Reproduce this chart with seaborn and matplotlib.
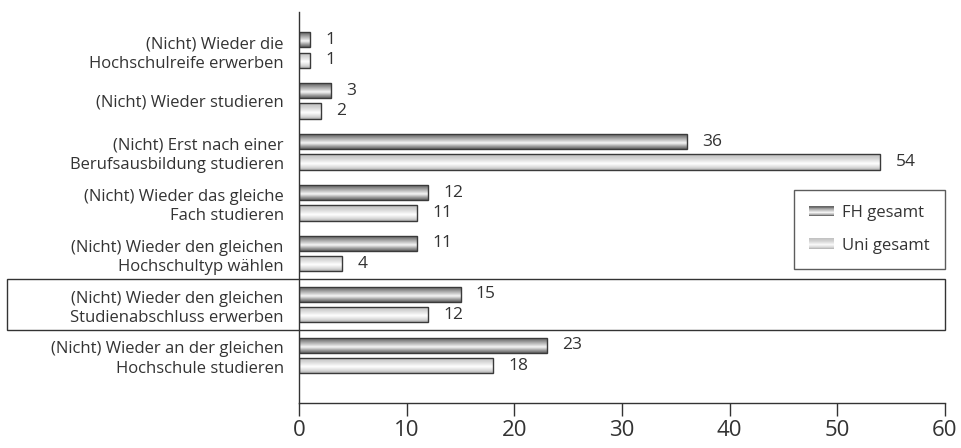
import numpy as np
import pandas as pd
import matplotlib
matplotlib.use("Agg")
import matplotlib.pyplot as plt
import seaborn as sns
from matplotlib.colors import LinearSegmentedColormap
from matplotlib.patches import Rectangle
from matplotlib.legend_handler import HandlerBase
from matplotlib.transforms import blended_transform_factory

categories = [
    "(Nicht) Wieder die\nHochschulreife erwerben",
    "(Nicht) Wieder studieren",
    "(Nicht) Erst nach einer\nBerufsausbildung studieren",
    "(Nicht) Wieder das gleiche\nFach studieren",
    "(Nicht) Wieder den gleichen\nHochschultyp wählen",
    "(Nicht) Wieder den gleichen\nStudienabschluss erwerben",
    "(Nicht) Wieder an der gleichen\nHochschule studieren",
]
series_names = ["FH gesamt", "Uni gesamt"]
fh_values = [1, 3, 36, 12, 11, 15, 23]
uni_values = [1, 2, 54, 11, 4, 12, 18]
x_ticks = [0, 10, 20, 30, 40, 50, 60]
highlight_index = 5

sns.set_theme(style="white")
plt.rcParams["font.family"] = ["Open Sans", "DejaVu Sans"]
TXT = "#333333"

df = pd.DataFrame({
    "cat": categories * 2,
    "val": fh_values + uni_values,
    "series": [series_names[0]] * len(categories) + [series_names[1]] * len(categories),
})

fig = plt.figure(figsize=(9.61, 4.48), dpi=100)
ax = fig.add_axes([299 / 961, 1 - 403 / 448, 646 / 961, 391 / 448])

sns.barplot(data=df, y="cat", x="val", hue="series", order=categories,
            hue_order=series_names, orient="h", width=0.8, gap=0.25,
            palette=["#888888", "#dddddd"], edgecolor="#3a3a3a", linewidth=1.0,
            ax=ax, legend=False)

cmaps = [
    LinearSegmentedColormap.from_list("fh", [(0, "#606060"), (0.2, "#828282"), (0.62, "#f6f6f6"), (0.85, "#989898"), (1, "#606060")]),
    LinearSegmentedColormap.from_list("uni", [(0, "#c0c0c0"), (0.25, "#d2d2d2"), (0.6, "#ffffff"), (0.85, "#d8d8d8"), (1, "#b0b0b0")]),
]
grad = np.linspace(0, 1, 64).reshape(-1, 1)
for ci, cont in enumerate(ax.containers):
    for p in cont.patches:
        x, y, w, h = p.get_x(), p.get_y(), p.get_width(), p.get_height()
        im = ax.imshow(grad, cmap=cmaps[ci], extent=(x, x + w, y + h, y), origin="upper",
                       aspect="auto", interpolation="bilinear", zorder=p.get_zorder() - 0.1)
        im.set_clip_path(p)
        p.set_facecolor("none")
    ax.bar_label(cont, padding=11, fontsize=12.5, color=TXT)

ax.set_xlim(0, 60)
ax.set_ylim(6.935, -0.747)
ax.set_xticks(x_ticks)
ax.set_xticklabels([str(t) for t in x_ticks], fontsize=16, color=TXT)
ax.tick_params(axis="x", direction="out", length=9, width=1, color="#333333", pad=3, bottom=True)
ax.tick_params(axis="y", length=0, labelsize=12, labelcolor=TXT, pad=11)
for lab in ax.get_yticklabels():
    lab.set_linespacing(1.3)
ax.set_xlabel("")
ax.set_ylabel("")
for s in ["top", "right"]:
    ax.spines[s].set_visible(False)
for s in ["left", "bottom"]:
    ax.spines[s].set_color("#333333")
    ax.spines[s].set_linewidth(1)

# highlight box around one category
tr = blended_transform_factory(fig.transFigure, ax.transData)
x0 = 7 / 961
x1 = 945 / 961
ax.add_patch(Rectangle((x0, highlight_index - 0.51), x1 - x0, 1.02, transform=tr,
                       fill=False, edgecolor="#333333", linewidth=1, clip_on=False))

class GradHandler(HandlerBase):
    def __init__(self, cmap):
        super().__init__()
        self.cmap = cmap

    def create_artists(self, legend, orig_handle, xdescent, ydescent, width, height, fontsize, trans):
        n = 12
        arts = []
        for i in range(n):
            c = self.cmap(1 - (i + 0.5) / n)
            arts.append(Rectangle((-xdescent, -ydescent + height * i / n), width, height / n + 0.02,
                                  facecolor=c, edgecolor="none", transform=trans))
        return arts

h1 = Rectangle((0, 0), 1, 1)
h2 = Rectangle((0, 0), 1, 1)
leg = ax.legend([h1, h2], series_names, loc="upper right", bbox_to_anchor=(1.0, 0.545),
                bbox_transform=ax.transAxes, borderaxespad=0, frameon=True, fancybox=False,
                fontsize=12, labelspacing=1.0, handlelength=1.5, handleheight=0.6,
                handletextpad=0.5, borderpad=0.9,
                handler_map={h1: GradHandler(cmaps[0]), h2: GradHandler(cmaps[1])})
leg.get_frame().set_edgecolor("#333333")
leg.get_frame().set_linewidth(1)
for t in leg.get_texts():
    t.set_color(TXT)

fig.savefig("out.png", dpi=100)
